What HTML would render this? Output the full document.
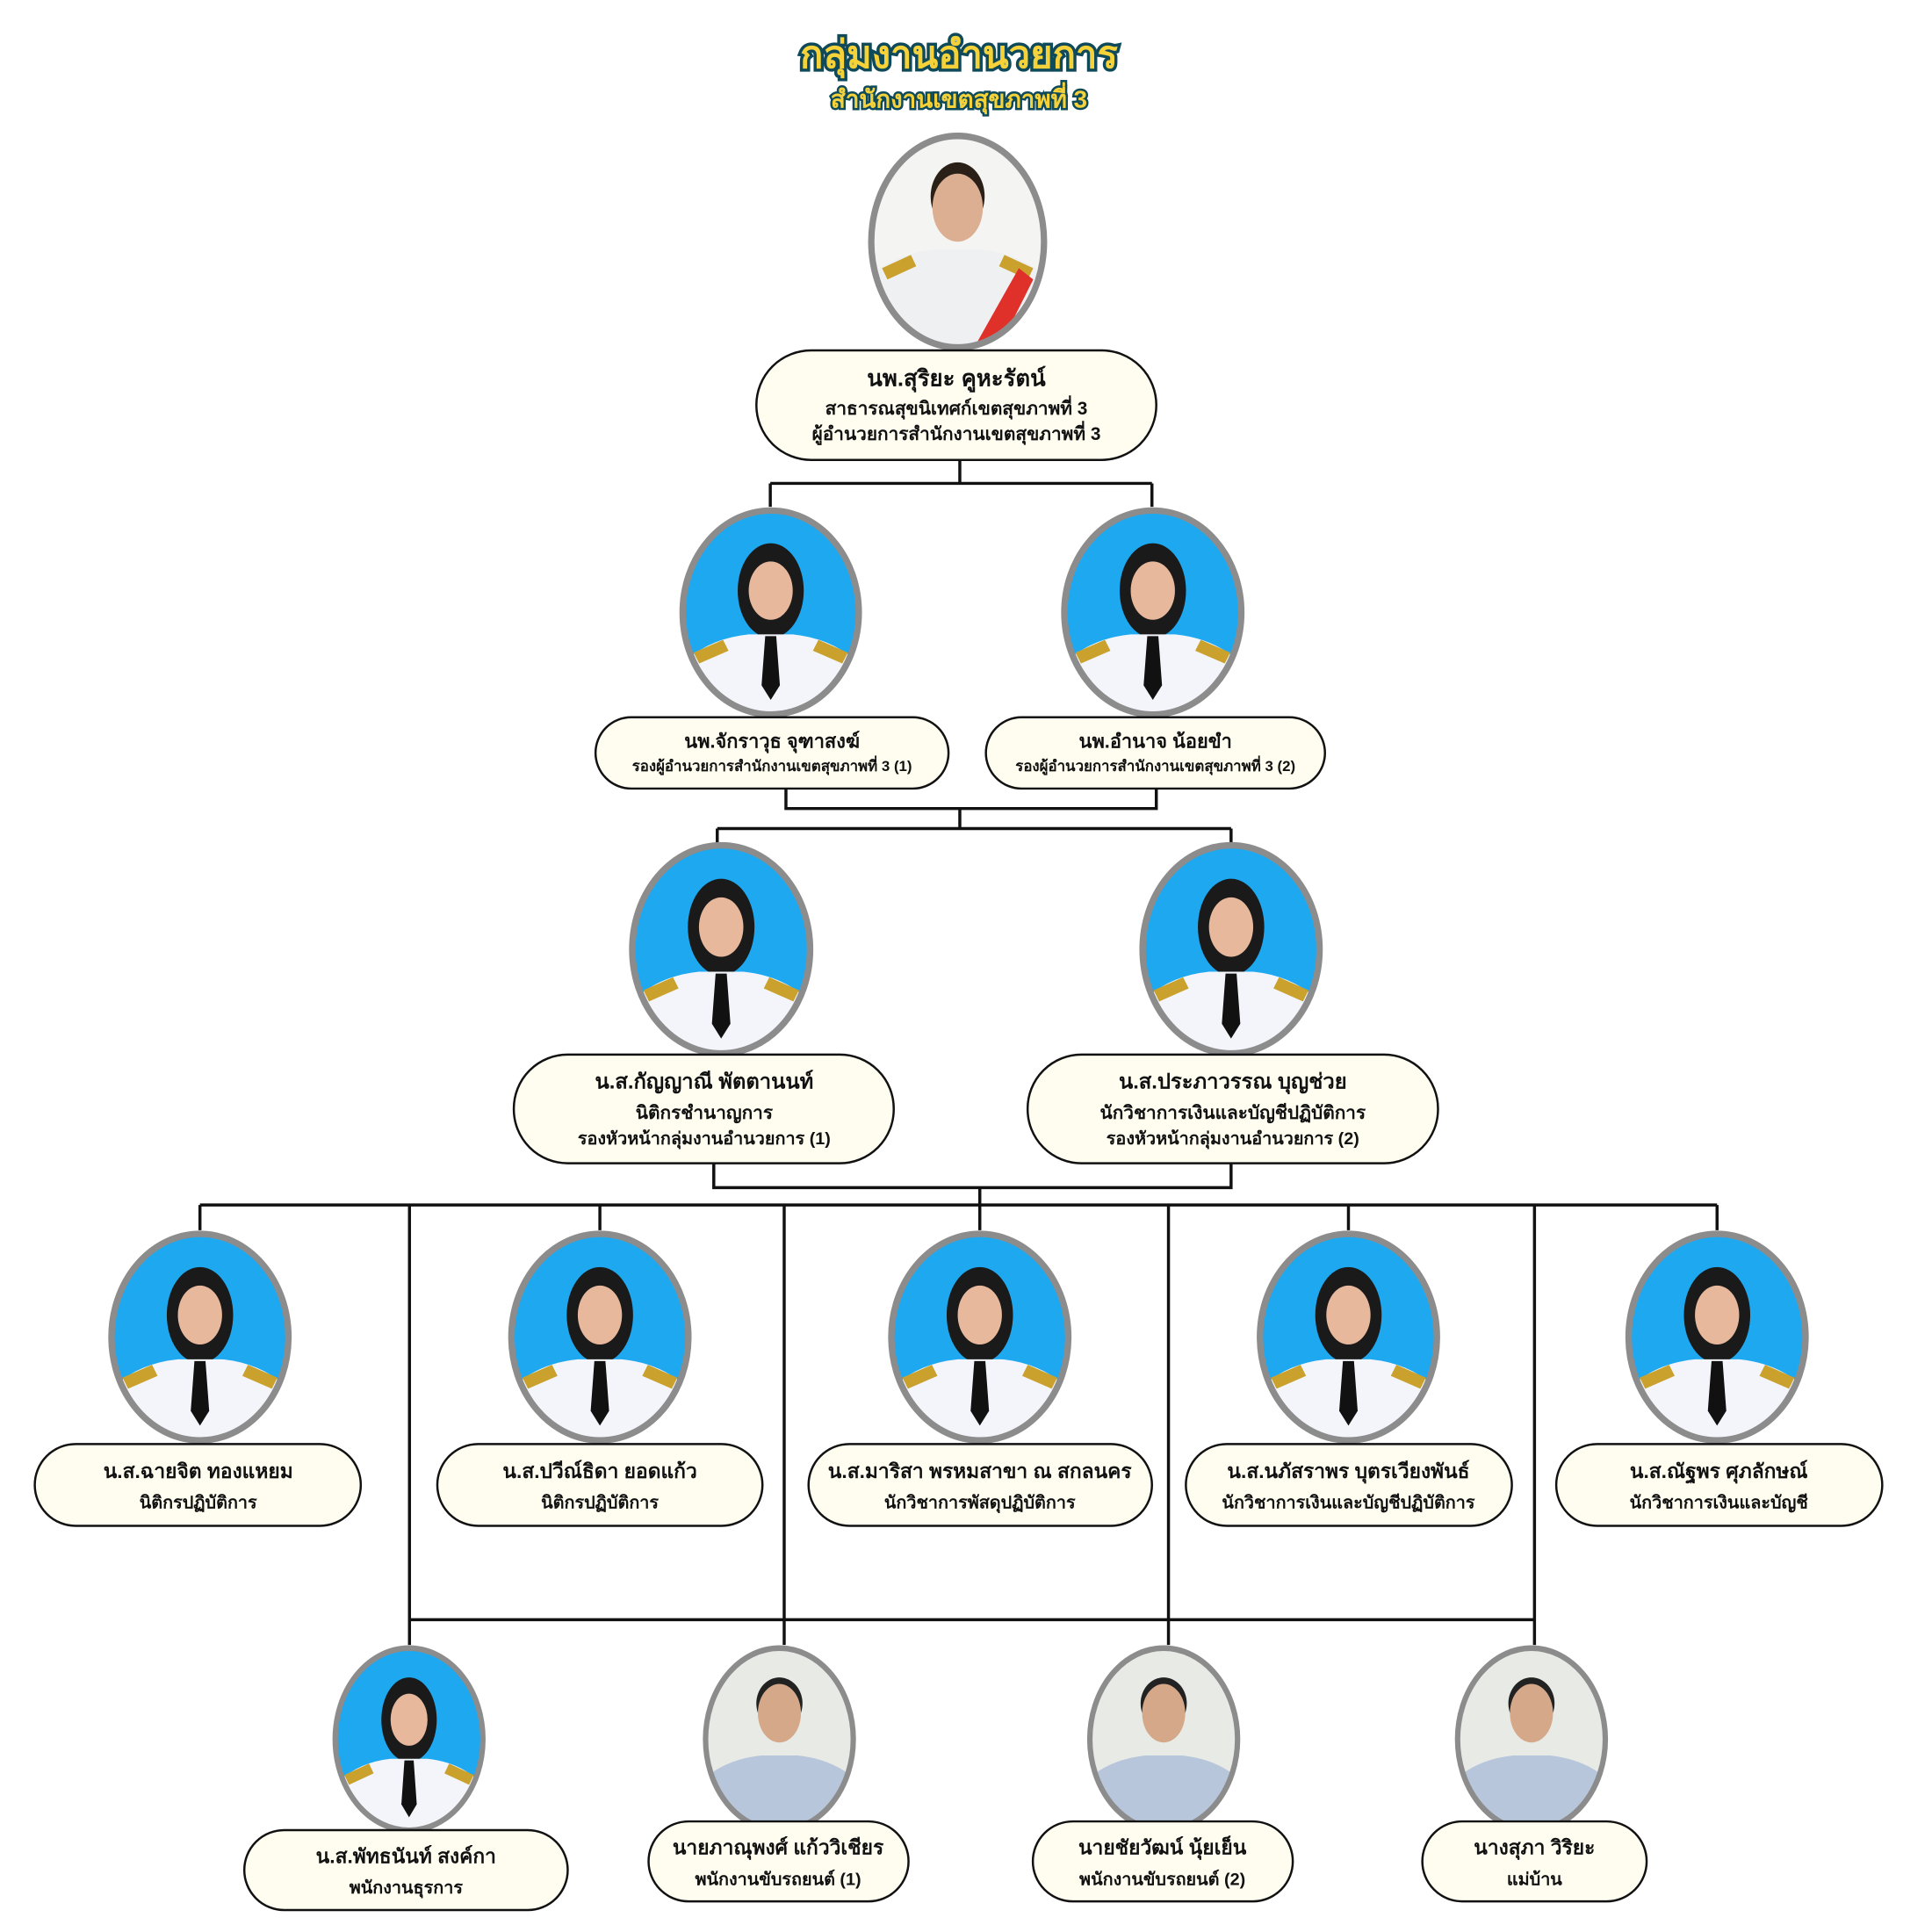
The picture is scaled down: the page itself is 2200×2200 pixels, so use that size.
<!DOCTYPE html>
<html><head><meta charset="utf-8"><style>
html,body{margin:0;padding:0;background:#fff}
svg{display:block}
text{font-family:"Liberation Sans","DejaVu Sans",sans-serif;font-weight:bold;fill:#111;text-anchor:middle}
</style></head><body>
<svg width="2200" height="2200" viewBox="0 0 2200 2200" xmlns="http://www.w3.org/2000/svg">
<defs>
<clipPath id="ce"><ellipse cx="50" cy="58" rx="48" ry="56"/></clipPath>
<symbol id="pb" viewBox="0 0 100 116" preserveAspectRatio="none">
 <g clip-path="url(#ce)">
  <rect width="100" height="116" fill="#1ea8f0"/>
  <ellipse cx="50" cy="46" rx="18" ry="26" fill="#1a1a1a"/>
  <ellipse cx="50" cy="46" rx="12" ry="16" fill="#e8b89c"/>
  <path d="M2 116 L4 84 Q18 72 38 70 L62 70 Q82 72 96 84 L98 116 Z" fill="#f3f5fa"/>
  <path d="M8 80 L24 73 L27 79 L11 86 Z M92 80 L76 73 L73 79 L89 86Z" fill="#c9a12c"/>
  <path d="M47 71 L53 71 L55 98 L50 106 L45 98 Z" fill="#111"/>
 </g>
 <ellipse cx="50" cy="58" rx="48" ry="56" fill="none" stroke="#8c8c8c" stroke-width="3.5"/>
</symbol>
<symbol id="pw" viewBox="0 0 100 116" preserveAspectRatio="none">
 <g clip-path="url(#ce)">
  <rect width="100" height="116" fill="#f4f4f2"/>
  <ellipse cx="50" cy="34" rx="15" ry="18" fill="#2a2018"/>
  <ellipse cx="50" cy="40" rx="14" ry="18" fill="#dcae92"/>
  <path d="M2 116 L4 74 Q18 64 38 62 L62 62 Q82 64 96 74 L98 116 Z" fill="#eef0f2"/>
  <path d="M8 72 L24 65 L27 71 L11 78 Z M92 72 L76 65 L73 71 L89 78Z" fill="#c9a12c"/>
  <path d="M58 116 L84 72 L92 78 L72 116Z" fill="#e0302a"/>
 </g>
 <ellipse cx="50" cy="58" rx="48" ry="56" fill="none" stroke="#8c8c8c" stroke-width="3.5"/>
</symbol>
<symbol id="ps" viewBox="0 0 100 116" preserveAspectRatio="none">
 <g clip-path="url(#ce)">
  <rect width="100" height="116" fill="#e8eae6"/>
  <ellipse cx="50" cy="36" rx="15" ry="16" fill="#222"/>
  <ellipse cx="50" cy="42" rx="14" ry="18" fill="#d6a88a"/>
  <path d="M2 116 L4 80 Q18 70 38 68 L62 68 Q82 70 96 80 L98 116 Z" fill="#b8c6dc"/>
 </g>
 <ellipse cx="50" cy="58" rx="48" ry="56" fill="none" stroke="#8c8c8c" stroke-width="3.5"/>
</symbol>
</defs>
<g transform="scale(0.99)">
<!-- Title -->
<text x="1103" y="78" font-size="44" stroke="#0f4a5a" stroke-width="7" paint-order="stroke" style="fill:#f5d23a">กลุ่มงานอำนวยการ</text>
<text x="1103" y="124" font-size="28" stroke="#0f4a5a" stroke-width="5" paint-order="stroke" style="fill:#f5d23a">สำนักงานเขตสุขภาพที่ 3</text>

<!-- Connectors -->
<g stroke="#111" stroke-width="3.5" fill="none">
 <path d="M1104 529 V556 M886 556 H1325 M886 556 V583 M1325 556 V583"/>
 <path d="M904 907 V930 H1330 V907 M1104 930 V953 M825 953 H1416 M825 953 V971 M1416 953 V971"/>
 <path d="M821 1338 V1366 H1416 V1338 M1127 1366 V1386 M230 1386 H1975"/>
 <path d="M230 1386 V1415 M690 1386 V1415 M1127 1386 V1415 M1551 1386 V1415 M1975 1386 V1415"/>
 <path d="M471 1386 V1892 M902 1386 V1892 M1344 1386 V1892 M1765 1386 V1892 M471 1863 H1765"/>
</g>

<!-- Photos -->
<use href="#pw" x="998" y="152" width="207" height="252"/>
<use href="#pb" x="781" y="583" width="211" height="243"/>
<use href="#pb" x="1220" y="583" width="212" height="243"/>
<use href="#pb" x="723" y="968" width="213" height="248"/>
<use href="#pb" x="1310" y="968" width="212" height="248"/>
<use href="#pb" x="124" y="1415" width="212" height="246"/>
<use href="#pb" x="584" y="1415" width="212" height="246"/>
<use href="#pb" x="1021" y="1415" width="212" height="246"/>
<use href="#pb" x="1445" y="1415" width="212" height="246"/>
<use href="#pb" x="1869" y="1415" width="212" height="246"/>
<use href="#pb" x="382" y="1892" width="177" height="217"/>
<use href="#ps" x="808" y="1892" width="177" height="217"/>
<use href="#ps" x="1250" y="1892" width="177" height="217"/>
<use href="#ps" x="1673" y="1892" width="177" height="217"/>

<!-- Boxes -->
<g fill="#fffdf0" stroke="#111" stroke-width="2.5">
 <rect x="870" y="403" width="460" height="126" rx="63"/>
 <rect x="685" y="825" width="406" height="82" rx="41"/>
 <rect x="1134" y="825" width="390" height="82" rx="41"/>
 <rect x="591" y="1213" width="437" height="125" rx="62"/>
 <rect x="1182" y="1213" width="472" height="125" rx="62"/>
 <rect x="40" y="1661" width="375" height="94" rx="47"/>
 <rect x="503" y="1661" width="374" height="94" rx="47"/>
 <rect x="930" y="1661" width="395" height="94" rx="47"/>
 <rect x="1364" y="1661" width="375" height="94" rx="47"/>
 <rect x="1790" y="1661" width="375" height="94" rx="47"/>
 <rect x="281" y="2105" width="372" height="92" rx="46"/>
 <rect x="746" y="2095" width="299" height="92" rx="46"/>
 <rect x="1188" y="2095" width="299" height="92" rx="46"/>
 <rect x="1636" y="2095" width="258" height="92" rx="46"/>
</g>

<!-- Labels -->
<text x="1100" y="444" font-size="26">นพ.สุริยะ คูหะรัตน์</text>
<text x="1100" y="477" font-size="21">สาธารณสุขนิเทศก์เขตสุขภาพที่ 3</text>
<text x="1100" y="506" font-size="21">ผู้อำนวยการสำนักงานเขตสุขภาพที่ 3</text>

<text x="888" y="860" font-size="22">นพ.จักราวุธ จุฑาสงฆ์</text>
<text x="888" y="887" font-size="17">รองผู้อำนวยการสำนักงานเขตสุขภาพที่ 3 (1)</text>
<text x="1329" y="860" font-size="22">นพ.อำนาจ น้อยขำ</text>
<text x="1329" y="887" font-size="17">รองผู้อำนวยการสำนักงานเขตสุขภาพที่ 3 (2)</text>

<text x="810" y="1252" font-size="24">น.ส.กัญญาณี พัตตานนท์</text>
<text x="810" y="1287" font-size="21">นิติกรชำนาญการ</text>
<text x="810" y="1316" font-size="20">รองหัวหน้ากลุ่มงานอำนวยการ (1)</text>
<text x="1418" y="1252" font-size="24">น.ส.ประภาวรรณ บุญช่วย</text>
<text x="1418" y="1287" font-size="21">นักวิชาการเงินและบัญชีปฏิบัติการ</text>
<text x="1418" y="1316" font-size="20">รองหัวหน้ากลุ่มงานอำนวยการ (2)</text>

<text x="228" y="1700" font-size="23">น.ส.ฉายจิต ทองแหยม</text>
<text x="228" y="1735" font-size="20">นิติกรปฏิบัติการ</text>
<text x="690" y="1700" font-size="23">น.ส.ปวีณ์ธิดา ยอดแก้ว</text>
<text x="690" y="1735" font-size="20">นิติกรปฏิบัติการ</text>
<text x="1127" y="1700" font-size="23">น.ส.มาริสา พรหมสาขา ณ สกลนคร</text>
<text x="1127" y="1735" font-size="20">นักวิชาการพัสดุปฏิบัติการ</text>
<text x="1551" y="1700" font-size="23">น.ส.นภัสราพร บุตรเวียงพันธ์</text>
<text x="1551" y="1735" font-size="20">นักวิชาการเงินและบัญชีปฏิบัติการ</text>
<text x="1977" y="1700" font-size="23">น.ส.ณัฐพร ศุภลักษณ์</text>
<text x="1977" y="1735" font-size="20">นักวิชาการเงินและบัญชี</text>

<text x="467" y="2143" font-size="23">น.ส.พัทธนันท์ สงค์กา</text>
<text x="467" y="2178" font-size="20">พนักงานธุรการ</text>
<text x="895" y="2133" font-size="23">นายภาณุพงศ์ แก้ววิเชียร</text>
<text x="895" y="2168" font-size="20">พนักงานขับรถยนต์ (1)</text>
<text x="1337" y="2133" font-size="23">นายชัยวัฒน์ นุ้ยเย็น</text>
<text x="1337" y="2168" font-size="20">พนักงานขับรถยนต์ (2)</text>
<text x="1765" y="2133" font-size="23">นางสุภา วิริยะ</text>
<text x="1765" y="2168" font-size="20">แม่บ้าน</text>
</g>
</svg>
</body></html>
